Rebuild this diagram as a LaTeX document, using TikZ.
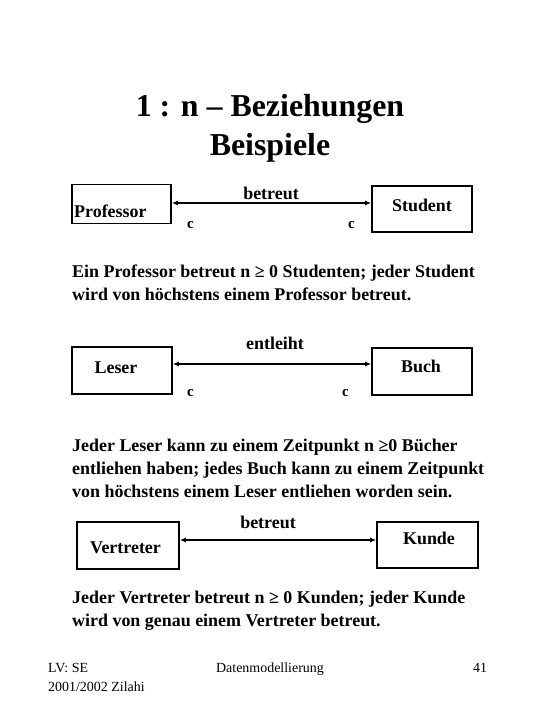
\documentclass[tikz,border=0pt]{standalone}
\usepackage{fontspec}
\setmainfont{Liberation Serif}
\usetikzlibrary{arrows.meta}
\begin{document}
\begin{tikzpicture}[x=1bp,y=-1bp,
  entity/.style={draw, line width=1.6bp, inner sep=0pt},
  lbl/.style={font=\fontsize{18}{22}\selectfont\bfseries, inner sep=0pt, anchor=base west},
  card/.style={font=\fontsize{15}{18}\selectfont\bfseries, inner sep=0pt, anchor=base west},
  para/.style={font=\fontsize{18}{23}\selectfont\bfseries, inner sep=0pt, anchor=base west, align=left},
  foot/.style={font=\fontsize{14}{19}\selectfont, inner sep=0pt, anchor=base west},
  rel/.style={line width=1.4bp, {Latex[length=6bp,width=5bp]}-{Latex[length=6bp,width=5bp]}}]
\useasboundingbox (0,0) rectangle (540,720);
% title
\node[font=\fontsize{32}{45}\selectfont\bfseries, inner sep=0pt, anchor=base] (t1) at (270,117) {1 : n -- Beziehungen};
\node[font=\fontsize{32}{45}\selectfont\bfseries, inner sep=0pt, anchor=base] (t2) at (270,155) {Beispiele};
% example 1
\node[entity, minimum width=99bp, minimum height=39bp] (prof) at (121.5,204) {};
\node[entity, minimum width=100bp, minimum height=46bp] (stud) at (422,209) {};
\node[lbl] (profl) at (74,217) {Professor};
\node[lbl, anchor=base] (studl) at (422,211) {Student};
\draw[rel] ([yshift=1bp]prof.east) -- ([yshift=1bp]prof.east -| stud.west);
\node[lbl, anchor=base] (r1) at (271,199) {betreut};
\node[card] (c1a) at (187,228) {c};
\node[card] (c1b) at (348,228) {c};
\node[para] (p1) at (72,300) {Ein Professor betreut n ≥ 0 Studenten; jeder Student\\wird von höchstens einem Professor betreut.};
% example 2
\node[entity, minimum width=100bp, minimum height=47bp] (les) at (122,370.5) {};
\node[entity, minimum width=100bp, minimum height=47bp] (buch) at (422,371.5) {};
\node[lbl, anchor=base] (lesl) at (116,373) {Leser};
\node[lbl, anchor=base] (buchl) at (421,372) {Buch};
\draw[rel] ([yshift=6.5bp]les.east) -- ([yshift=6.5bp]les.east -| buch.west);
\node[lbl, anchor=base] (r2) at (275,349) {entleiht};
\node[card] (c2a) at (187,396) {c};
\node[card] (c2b) at (342,396) {c};
\node[para] (p2) at (72,497) {Jeder Leser kann zu einem Zeitpunkt n ≥0 Bücher\\entliehen haben; jedes Buch kann zu einem Zeitpunkt\\von höchstens einem Leser entliehen worden sein.};
% example 3
\node[entity, minimum width=102bp, minimum height=47bp] (vert) at (128,545.5) {};
\node[entity, minimum width=101bp, minimum height=46bp] (kunde) at (427.5,545) {};
\node[lbl] (vertl) at (90,553) {Vertreter};
\node[lbl, anchor=base] (kundel) at (429,544) {Kunde};
\draw[rel] ([yshift=5.5bp]vert.east) -- ([yshift=5.5bp]vert.east -| kunde.west);
\node[lbl, anchor=base] (r3) at (268,528) {betreut};
\node[para] (p3) at (72,626) {Jeder Vertreter betreut n ≥ 0 Kunden; jeder Kunde\\wird von genau einem Vertreter betreut.};
% footer
\node[foot] (f1) at (48,672) {LV: SE};
\node[foot] (f1b) at (48,691) {2001/2002 Zilahi};
\node[foot, anchor=base] (f2) at (270,672) {Datenmodellierung};
\node[foot] (f3) at (473,672) {41};
\end{tikzpicture}
\end{document}
